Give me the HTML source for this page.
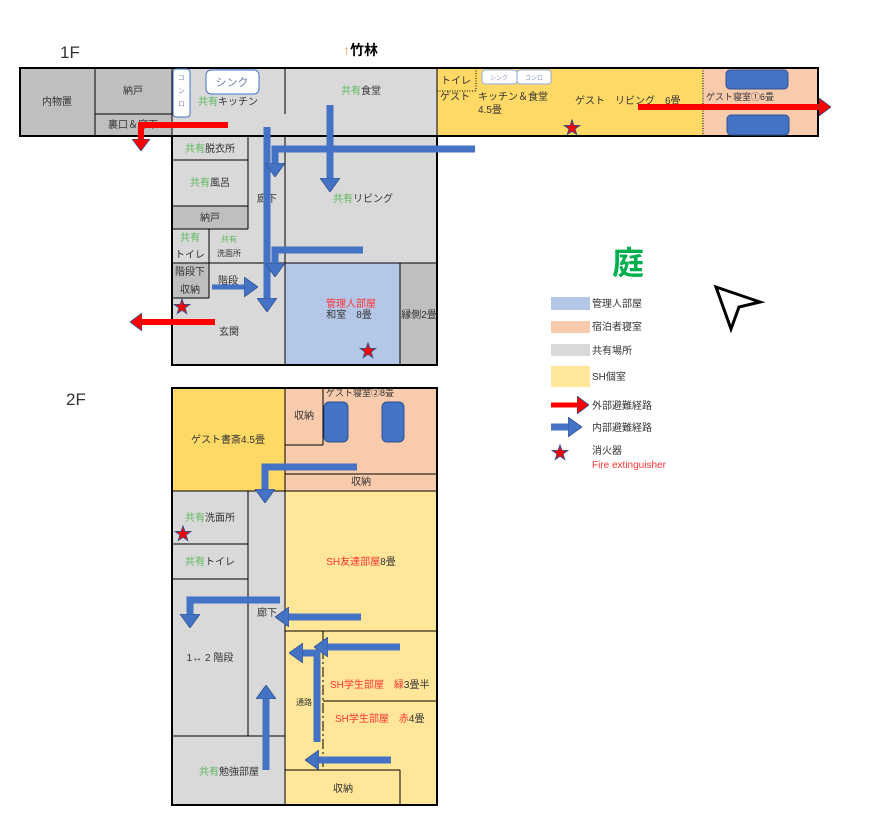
<!DOCTYPE html>
<html><head><meta charset="utf-8">
<style>
html,body{margin:0;padding:0;background:#fff;}
svg{display:block;}
text{font-family:"Liberation Sans","Noto Sans CJK JP",sans-serif;font-size:10px;fill:#333;}
.g{fill:#5cb85c;}
.r{fill:#ff3333;}
</style></head><body>
<svg width="886" height="835" viewBox="0 0 886 835" xmlns="http://www.w3.org/2000/svg">
<defs>
<marker id="bh" markerUnits="userSpaceOnUse" markerWidth="14" markerHeight="20" refX="0" refY="10" orient="auto" viewBox="0 0 14 20">
<path d="M0,0 L14,10 L0,20 z" fill="#4472c4" stroke="#2f528f" stroke-width="0.8"/></marker>
<marker id="rh" markerUnits="userSpaceOnUse" markerWidth="12" markerHeight="18" refX="0" refY="9" orient="auto" viewBox="0 0 12 18">
<path d="M0,0 L12,9 L0,18 z" fill="#ff0000" stroke="#2f528f" stroke-width="0.8"/></marker>
<symbol id="star" viewBox="-10 -10 20 20"><path d="M0,-9 L2.1,-2.9 8.6,-2.8 3.4,1.1 5.3,7.3 0,3.6 -5.3,7.3 -3.4,1.1 -8.6,-2.8 -2.1,-2.9z" fill="#ff0000" stroke="#2f528f" stroke-width="1"/></symbol>
</defs>

<!-- titles -->
<text x="60" y="58" style="font-size:17px">1F</text>
<text x="343" y="55" style="font-size:14px;font-weight:bold;fill:#000"><tspan style="fill:#f4a460">↑</tspan>竹林</text>
<text x="66" y="405" style="font-size:17px">2F</text>

<!-- 1F fills -->
<rect x="20" y="68" width="152" height="68" fill="#bfbfbf"/>
<rect x="172" y="68" width="265" height="68" fill="#d9d9d9"/>
<rect x="437" y="68" width="266" height="68" fill="#ffd966"/>
<rect x="703" y="68" width="115" height="68" fill="#f8cbad"/>
<rect x="172" y="136" width="265" height="229" fill="#d9d9d9"/>
<rect x="172" y="206" width="76" height="23" fill="#bfbfbf"/>
<rect x="172" y="263" width="37" height="35" fill="#bfbfbf"/>
<rect x="285" y="263" width="115" height="102" fill="#b4c7e7"/>
<rect x="400" y="263" width="37" height="102" fill="#bfbfbf"/>

<!-- 1F lines -->
<g stroke="#000" fill="none">
<rect x="20" y="68" width="798" height="68" stroke-width="2"/>
<rect x="172" y="136" width="265" height="229" stroke-width="2"/>
<line x1="95" y1="68" x2="95" y2="136"/>
<line x1="95" y1="114" x2="172" y2="114"/>
<line x1="172" y1="68" x2="172" y2="136"/>
<line x1="285" y1="68" x2="285" y2="114"/>
<line x1="437" y1="68" x2="437" y2="136"/>
<line x1="248" y1="136" x2="248" y2="229"/>
<line x1="172" y1="160" x2="248" y2="160"/>
<line x1="172" y1="206" x2="248" y2="206"/>
<line x1="172" y1="229" x2="248" y2="229"/>
<line x1="209" y1="229" x2="209" y2="298"/>
<line x1="172" y1="298" x2="209" y2="298"/>
<line x1="172" y1="263" x2="437" y2="263"/>
<line x1="285" y1="136" x2="285" y2="365"/>
<line x1="400" y1="263" x2="400" y2="365"/>
<line x1="248" y1="136" x2="437" y2="136" stroke-dasharray="10,3,2,3"/>
<line x1="437" y1="91" x2="476" y2="91" stroke-dasharray="1,1.5"/>
<line x1="476" y1="68" x2="476" y2="91" stroke-dasharray="1,1.5"/>
<line x1="703" y1="68" x2="703" y2="136" stroke-dasharray="1,1.5"/>
</g>
<!-- fixtures -->
<rect x="173" y="69" width="17" height="48" rx="3" fill="#fff" stroke="#4472c4"/>
<text x="181.5" y="80" text-anchor="middle" style="font-size:7px;fill:#8090c0">コ</text>
<text x="181.5" y="93" text-anchor="middle" style="font-size:7px;fill:#8090c0">ン</text>
<text x="181.5" y="106" text-anchor="middle" style="font-size:7px;fill:#8090c0">ロ</text>
<rect x="206" y="70" width="53" height="24" rx="5" fill="#fff" stroke="#4472c4"/>
<text x="232" y="86" text-anchor="middle" style="font-size:11px;fill:#7080b0">シンク</text>
<rect x="482" y="70" width="35" height="14" rx="3" fill="#fff" stroke="#8faadc"/>
<text x="499" y="80" text-anchor="middle" style="font-size:6px;fill:#8090c0">シンク</text>
<rect x="517" y="70" width="34" height="14" rx="3" fill="#fff" stroke="#8faadc"/>
<text x="534" y="80" text-anchor="middle" style="font-size:6px;fill:#8090c0">コンロ</text>
<rect x="726" y="70" width="62" height="19" rx="4" fill="#4472c4" stroke="#2f528f"/>
<rect x="727" y="115" width="62" height="20" rx="4" fill="#4472c4" stroke="#2f528f"/>

<!-- 1F labels -->
<text x="57" y="105" text-anchor="middle">内物置</text>
<text x="133" y="94" text-anchor="middle">納戸</text>
<text x="108" y="128">裏口＆廊下</text>
<text x="228" y="105" text-anchor="middle"><tspan class="g">共有</tspan>キッチン</text>
<text x="361" y="94" text-anchor="middle"><tspan class="g">共有</tspan>食堂</text>
<text x="210" y="152" text-anchor="middle"><tspan class="g">共有</tspan>脱衣所</text>
<text x="210" y="186" text-anchor="middle"><tspan class="g">共有</tspan>風呂</text>
<text x="210" y="221" text-anchor="middle">納戸</text>
<text x="190" y="241" text-anchor="middle" class="g">共有</text>
<text x="190" y="258" text-anchor="middle">トイレ</text>
<text x="229" y="242" text-anchor="middle" class="g" style="font-size:8px">共有</text>
<text x="229" y="256" text-anchor="middle" style="font-size:8px">洗面所</text>
<text x="267" y="202" text-anchor="middle">廊下</text>
<text x="363" y="202" text-anchor="middle"><tspan class="g">共有</tspan>リビング</text>
<text x="190" y="275" text-anchor="middle">階段下</text>
<text x="190" y="293" text-anchor="middle">収納</text>
<text x="228" y="284" text-anchor="middle">階段</text>
<text x="229" y="335" text-anchor="middle">玄関</text>
<text x="351" y="307" text-anchor="middle" class="r">管理人部屋</text>
<text x="349" y="318" text-anchor="middle">和室　8畳</text>
<text x="419" y="318" text-anchor="middle">縁側2畳</text>
<text x="456" y="84" text-anchor="middle">トイレ</text>
<text x="440" y="100">ゲスト</text>
<text x="478" y="100">キッチン＆食堂</text>
<text x="478" y="113">4.5畳</text>
<text x="575" y="104">ゲスト　リビング　6畳</text>
<text x="706" y="100" style="font-size:9px">ゲスト寝室①6畳</text>

<!-- 1F arrows -->
<g fill="none" stroke="#4472c4" stroke-width="7">
<path d="M267,127 V298" marker-end="url(#bh)"/>
<path d="M475,149 H275 V163" marker-end="url(#bh)"/>
<path d="M330,105 V178" marker-end="url(#bh)"/>
<path d="M363,250 H275 V263" marker-end="url(#bh)"/>
<path d="M212,287 H244" stroke-width="5" marker-end="url(#bh)"/>
</g>
<g fill="none" stroke="#ff0000" stroke-width="6">
<path d="M228,125 H141 V139" marker-end="url(#rh)"/>
<path d="M215,322 H142" marker-end="url(#rh)"/>
<path d="M638,107 H819" marker-end="url(#rh)"/>
</g>
<use href="#star" x="173" y="298" width="18" height="18"/>
<use href="#star" x="359" y="342" width="18" height="18"/>
<use href="#star" x="563" y="119" width="18" height="18"/>

<!-- 2F fills -->
<rect x="172" y="388" width="113" height="103" fill="#ffd966"/>
<rect x="285" y="388" width="152" height="103" fill="#f8cbad"/>
<rect x="285" y="491" width="152" height="314" fill="#ffe699"/>
<rect x="172" y="491" width="113" height="314" fill="#d9d9d9"/>
<g stroke="#000" fill="none">
<rect x="172" y="388" width="265" height="417" stroke-width="2"/>
<line x1="172" y1="491" x2="437" y2="491"/>
<line x1="285" y1="474" x2="437" y2="474"/>
<line x1="285" y1="445" x2="323" y2="445"/>
<line x1="323" y1="388" x2="323" y2="445"/>
<line x1="285" y1="388" x2="285" y2="805"/>
<line x1="248" y1="491" x2="248" y2="736"/>
<line x1="172" y1="544" x2="248" y2="544"/>
<line x1="172" y1="579" x2="248" y2="579"/>
<line x1="172" y1="736" x2="285" y2="736"/>
<line x1="285" y1="631" x2="437" y2="631"/>
<line x1="323" y1="701" x2="437" y2="701"/>
<line x1="323" y1="631" x2="323" y2="770" stroke-dasharray="10,3,2,3"/>
<line x1="285" y1="770" x2="400" y2="770"/>
<line x1="400" y1="770" x2="400" y2="805"/>
</g>
<rect x="324" y="402" width="24" height="40" rx="5" fill="#4472c4" stroke="#2f528f"/>
<rect x="382" y="402" width="22" height="40" rx="5" fill="#4472c4" stroke="#2f528f"/>

<text x="228" y="443" text-anchor="middle">ゲスト書斎4.5畳</text>
<text x="304" y="419" text-anchor="middle">収納</text>
<text x="326" y="396" style="font-size:9px">ゲスト寝室②8畳</text>
<text x="361" y="485" text-anchor="middle">収納</text>
<text x="210" y="521" text-anchor="middle"><tspan class="g">共有</tspan>洗面所</text>
<text x="210" y="565" text-anchor="middle"><tspan class="g">共有</tspan>トイレ</text>
<text x="210" y="661" text-anchor="middle">1↔ 2 階段</text>
<text x="267" y="616" text-anchor="middle">廊下</text>
<text x="229" y="775" text-anchor="middle"><tspan class="g">共有</tspan>勉強部屋</text>
<text x="361" y="565" text-anchor="middle" class="r">SH友達部屋<tspan style="fill:#333">8畳</tspan></text>
<text x="330" y="688" class="r">SH学生部屋　緑<tspan style="fill:#333">3畳半</tspan></text>
<text x="335" y="722" class="r">SH学生部屋　赤<tspan style="fill:#333">4畳</tspan></text>
<text x="304" y="705" text-anchor="middle" style="font-size:8px">通路</text>
<text x="343" y="792" text-anchor="middle">収納</text>

<g fill="none" stroke="#4472c4" stroke-width="7">
<path d="M357,467 H265 V489" marker-end="url(#bh)"/>
<path d="M361,617 H289" marker-end="url(#bh)"/>
<path d="M280,600 H190 V614" marker-end="url(#bh)"/>
<path d="M400,647 H328" marker-end="url(#bh)"/>
<path d="M317,742 V653 H303" marker-end="url(#bh)"/>
<path d="M266,770 V699" marker-end="url(#bh)"/>
<path d="M391,760 H319" marker-end="url(#bh)"/>
</g>
<use href="#star" x="174" y="525" width="18" height="18"/>

<!-- legend -->
<text x="612" y="274" style="font-size:32px;font-weight:bold;fill:#00b050">庭</text>
<polygon points="716,287 760,302 739,307 731,329" fill="none" stroke="#000" stroke-width="3" stroke-linejoin="miter"/>
<rect x="551" y="297" width="39" height="13" fill="#b4c7e7"/>
<text x="592" y="307">管理人部屋</text>
<rect x="551" y="321" width="39" height="12" fill="#f8cbad"/>
<text x="592" y="330">宿泊者寝室</text>
<rect x="551" y="344" width="39" height="12" fill="#d9d9d9"/>
<text x="592" y="354">共有場所</text>
<rect x="551" y="366" width="39" height="21" fill="#ffe699"/>
<text x="592" y="380">SH個室</text>
<path d="M551,405 H577" stroke="#ff0000" stroke-width="5" marker-end="url(#rh)"/>
<text x="592" y="409">外部避難経路</text>
<path d="M551,427 H568" stroke="#4472c4" stroke-width="7" marker-end="url(#bh)"/>
<text x="592" y="431">内部避難経路</text>
<use href="#star" x="551" y="444" width="18" height="18"/>
<text x="592" y="454">消火器</text>
<text x="592" y="468" class="r">Fire extinguisher</text>
</svg>
</body></html>
